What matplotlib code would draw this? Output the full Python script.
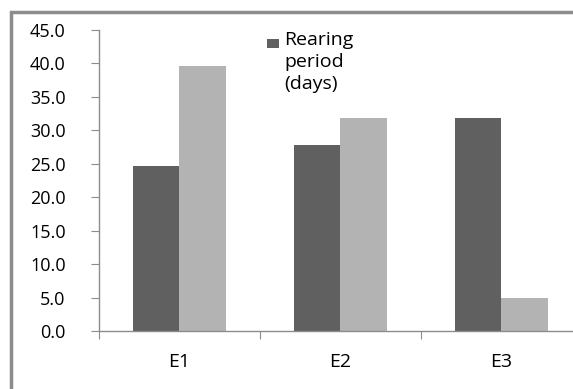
import matplotlib
matplotlib.use("Agg")
import matplotlib.pyplot as plt
from matplotlib.patches import Rectangle
import numpy as np

# data
categories = ["E1", "E2", "E3"]
rearing_period = [24.7, 27.8, 31.8]
second_series = [39.6, 31.8, 5.0]
y_ticks = [0, 5, 10, 15, 20, 25, 30, 35, 40, 45]
legend_label = "Rearing\nperiod\n(days)"

DARK = "#606060"
LIGHT = "#b3b3b3"
FRAME = "#8c8c8c"

plt.rcParams['font.family'] = ['Open Sans', 'DejaVu Sans']

fig = plt.figure(figsize=(5.73, 3.89), dpi=100)
W, H = 573, 389

# the chart is cut off on the right, so the axes run past the figure edge
ax = fig.add_axes([99 / W, (H - 331) / H, 483 / W, 301 / H])

x = np.arange(len(categories))
bw = 0.286
ax.bar(x - bw / 2, rearing_period, bw, color=DARK)
ax.bar(x + bw / 2, second_series, bw, color=LIGHT)

ax.set_xlim(-0.5, 2.5)
ax.set_ylim(0, 45)
ax.set_yticks(y_ticks)
ax.set_yticklabels(["%.1f" % v for v in y_ticks], fontsize=13)

ax.set_xticks([-0.5, 0.5, 1.5, 2.5])
ax.set_xticklabels([])
ax.set_xticks(x, minor=True)
ax.set_xticklabels(categories, minor=True, fontsize=14)
ax.tick_params(axis='x', which='minor', length=0, pad=16)
ax.tick_params(axis='x', which='major', length=6, color=FRAME, direction='out')
ax.tick_params(axis='y', length=6, color=FRAME, pad=18)

for s in ['top', 'right']:
    ax.spines[s].set_visible(False)
for s in ['left', 'bottom']:
    ax.spines[s].set_color(FRAME)
    ax.spines[s].set_linewidth(1.0)

# legend: one entry, square beside the first line of a 3-line label
fig.add_artist(Rectangle((267 / W, 1 - 48 / H), 12 / W, 9 / H,
                         transform=fig.transFigure, facecolor=DARK,
                         edgecolor='none'))
fig.text(284 / W, 1 - 31 / H, legend_label, fontsize=14, va='top',
         ha='left', linespacing=1.3)

# outer chart frame (only top and left edges visible in the crop)
fig.add_artist(Rectangle((11 / W, -0.1), 1.2, (H - 12) / H + 0.1,
                         transform=fig.transFigure, fill=False,
                         edgecolor=FRAME, linewidth=2.5))

fig.savefig("out.png", dpi=100)
